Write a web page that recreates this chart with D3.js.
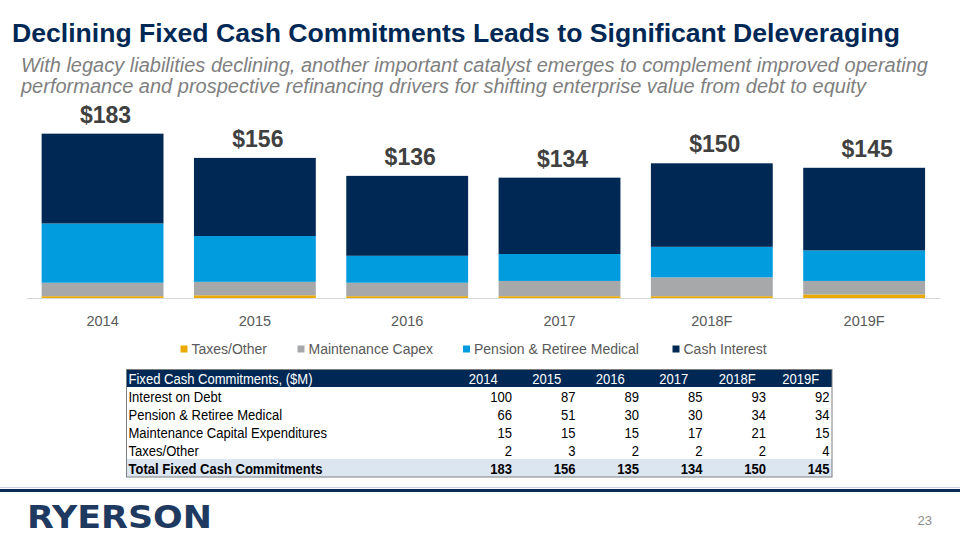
<!DOCTYPE html>
<html><head><meta charset="utf-8">
<script src="https://cdn.jsdelivr.net/npm/d3@7"></script>
<style>
body{margin:0;background:#fff;}
svg{display:block;font-family:"Liberation Sans",Arial,sans-serif;}
</style></head>
<body><svg id="c" width="960" height="540"></svg>
<script>
const years = ["2014","2015","2016","2017","2018F","2019F"];
const cashInterest = [100,87,89,85,93,92];
const pension = [66,51,30,30,34,34];
const maintCapex = [15,15,15,17,21,15];
const taxesOther = [2,3,2,2,2,4];
const barLabels = ["$183","$156","$136","$134","$150","$145"];
const tableTotals = [183,156,135,134,150,145];
const seriesNames = ["Taxes/Other","Maintenance Capex","Pension & Retiree Medical","Cash Interest"];
const seriesColors = ["#EAAA00","#A7A8AA","#009CDE","#002855"];
const tableRowLabels = ["Interest on Debt","Pension & Retiree Medical","Maintenance Capital Expenditures","Taxes/Other","Total Fixed Cash Commitments"];

const svg = d3.select("#c");

// Title & subtitle
svg.append("text").attr("x",12).attr("y",42).attr("fill","#002855")
  .attr("font-size",26.6).attr("font-weight","bold").text("Declining Fixed Cash Commitments Leads to Significant Deleveraging");
const sub = svg.append("text").attr("fill","#7F7F7F").attr("font-size",20).attr("font-style","italic");
sub.append("tspan").attr("x",21).attr("y",72).text("With legacy liabilities declining, another important catalyst emerges to complement improved operating");
sub.append("tspan").attr("x",21).attr("y",93).text("performance and prospective refinancing drivers for shifting enterprise value from debt to equity");

// Chart
const x = d3.scaleBand().domain(years).range([26.4,940.3]).paddingInner(0.2).paddingOuter(0.1);
const y = d3.scaleLinear().domain([0,200]).range([298,118.4]);

const rows = years.map((yr,i)=>({year:yr, taxes:taxesOther[i], maint:maintCapex[i], pension:pension[i], interest:cashInterest[i]}));
const keys = ["taxes","maint","pension","interest"];
const stacked = d3.stack().keys(keys)(rows);

svg.append("g").selectAll("g").data(stacked).join("g")
  .attr("fill",(d,i)=>seriesColors[i])
  .selectAll("rect").data(d=>d).join("rect")
  .attr("x",d=>x(d.data.year)).attr("width",x.bandwidth())
  .attr("y",d=>y(d[1])).attr("height",d=>y(d[0])-y(d[1]));

// axis
const xAxis = svg.append("g").attr("transform","translate(0,298)").call(d3.axisBottom(x).tickSize(0).tickPadding(18));
xAxis.select(".domain").attr("stroke","#D9D9D9").attr("stroke-width",1);
xAxis.selectAll("text").attr("font-size",14.5).attr("fill","#595959").attr("font-family","Liberation Sans, Arial, sans-serif");

// bar labels
const totals = rows.map(r=>r.taxes+r.maint+r.pension+r.interest);
svg.append("g").selectAll("text").data(years).join("text")
  .attr("x",d=>x(d)+x.bandwidth()/2+3).attr("y",(d,i)=>y(totals[i])-11)
  .attr("text-anchor","middle").attr("font-size",23).attr("font-weight","bold").attr("fill","#404040")
  .text((d,i)=>barLabels[i]);

// legend
const legendX = [180.5,297.5,463,672.5];
const lg = svg.append("g").selectAll("g").data(seriesNames).join("g")
  .attr("transform",(d,i)=>`translate(${legendX[i]},349)`);
lg.append("rect").attr("x",0).attr("y",-3.5).attr("width",7).attr("height",7).attr("fill",(d,i)=>seriesColors[i]);
lg.append("text").attr("x",11).attr("y",5).attr("font-size",14).attr("fill","#595959").text(d=>d);

// Table
const tLeft = 126.5, tRight = 832, tTop = 369.5, headH = 17.5, rowH = 18;
const colRight = d3.scalePoint().domain(years).range([512,829.5]);
const colStep = colRight.step();
const sx = 0.87, fs = 15;
const tbl = svg.append("g");
tbl.append("rect").attr("x",tLeft).attr("y",tTop).attr("width",tRight-tLeft).attr("height",headH).attr("fill","#002855");
tbl.append("rect").attr("x",tLeft).attr("y",tTop+headH+rowH*4).attr("width",tRight-tLeft).attr("height",rowH).attr("fill","#DCE6F1");
tbl.append("rect").attr("x",tLeft).attr("y",tTop).attr("width",tRight-tLeft).attr("height",headH+rowH*5)
  .attr("fill","none").attr("stroke","#7F7F7F").attr("stroke-width",1);
function cell(px,py,txt,anchor,color,weight){
  tbl.append("text").attr("transform",`translate(${px},${py}) scale(${sx},1)`)
    .attr("text-anchor",anchor).attr("font-size",fs).attr("font-weight",weight).attr("fill",color).text(txt);
}
const hy = tTop+headH/2+5.5;
cell(tLeft+2,hy,"Fixed Cash Commitments, ($M)","start","#fff","normal");
years.forEach(yr=>cell(colRight(yr)-colStep/2+3,hy,yr,"middle","#fff","normal"));
const tableData = [cashInterest,pension,maintCapex,taxesOther,tableTotals];
tableRowLabels.forEach((lab,r)=>{
  const yy = tTop+headH+rowH*r+rowH/2+5.5;
  const bold = r===4 ? "bold" : "normal";
  cell(tLeft+2,yy,lab,"start","#000",bold);
  tableData[r].forEach((v,i)=>cell(colRight(years[i]),yy,v,"end","#000",bold));
});

// Footer
svg.append("rect").attr("x",0).attr("y",487).attr("width",960).attr("height",1).attr("fill","#C9D3E0");
svg.append("rect").attr("x",0).attr("y",489).attr("width",960).attr("height",3).attr("fill","#0B2C55");
svg.append("text").attr("x",27).attr("y",528).attr("font-size",32).attr("font-family","'DejaVu Sans',sans-serif")
  .attr("font-weight","bold").attr("fill","#1F3A60").attr("textLength",185).attr("lengthAdjust","spacingAndGlyphs").text("RYERSON");
svg.append("text").attr("x",932).attr("y",525).attr("text-anchor","end").attr("font-size",13).attr("fill","#8C8C8C").text("23");
</script></body></html>
